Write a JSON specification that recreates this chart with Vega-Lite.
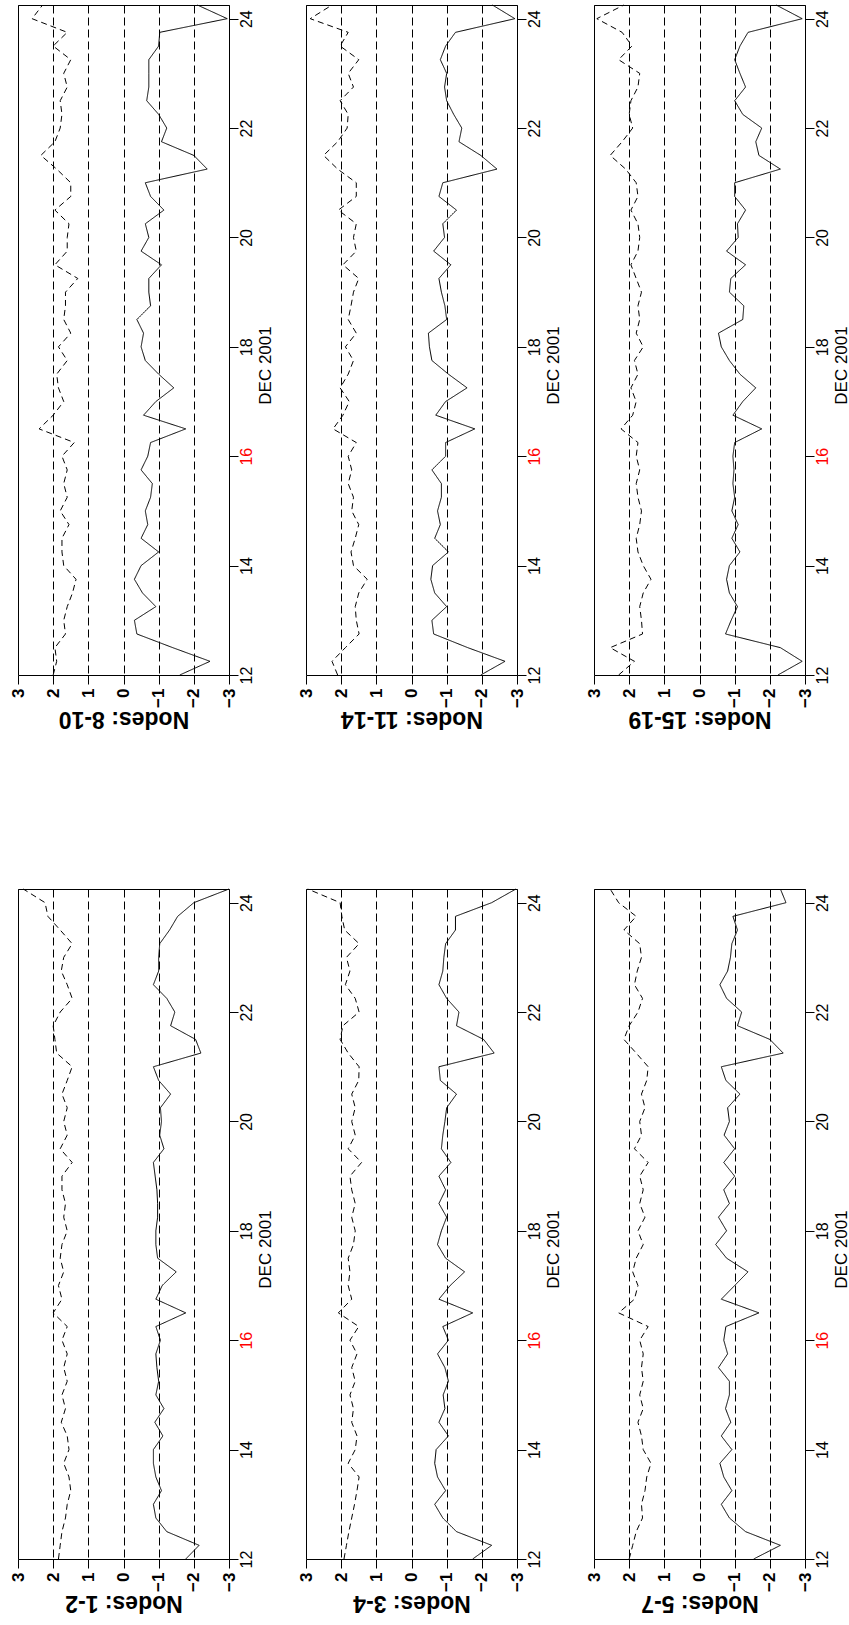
{
  "$schema": "https://vega.github.io/schema/vega-lite/v6.json",
  "padding": {"left": 8, "top": 2, "right": 0, "bottom": 0},
  "background": "white",
  "config": {
    "font": "Liberation Sans",
    "view": {"stroke": "black", "strokeWidth": 1},
    "axis": {"labelFont": "Liberation Sans", "titleFont": "Liberation Sans", "labelColor": "black", "titleColor": "black", "tickColor": "black", "domain": false},
    "axisX": {"orient": "bottom", "labelAngle": 270, "labelAlign": "right", "labelBaseline": "middle", "labelFontSize": 17, "labelFontWeight": "bold", "labelFlush": false, "labelOverlap": false, "labelBound": false, "tickSize": 9, "labelPadding": 4, "grid": true, "gridColor": "black", "gridDash": [8, 4], "gridWidth": 1, "titleAngle": 180, "titleFontSize": 23, "titleFontWeight": "bold", "titleAlign": "center", "titleBaseline": "alphabetic", "titleX": 105.5, "titleY": 36},
    "axisY": {"orient": "right", "grid": false, "labelAngle": 270, "labelAlign": "center", "labelBaseline": "top", "labelFontSize": 16, "labelFlush": false, "labelOverlap": false, "labelBound": false, "tickSize": 9, "labelPadding": 0, "titleAngle": 270, "titleFontSize": 17, "titleFontWeight": "normal", "titleAlign": "center", "titleBaseline": "top", "titleX": 28, "titleY": 360}
  },
  "datasets": {
    "d": [
      {"p":"8-10","d":12,"a":-1.6,"b":2.0},{"p":"8-10","d":12.25,"a":-2.46,"b":1.9},{"p":"8-10","d":12.5,"a":-1.4,"b":1.95},{"p":"8-10","d":12.75,"a":-0.38,"b":1.65},{"p":"8-10","d":13,"a":-0.31,"b":1.7},{"p":"8-10","d":13.25,"a":-0.92,"b":1.6},{"p":"8-10","d":13.5,"a":-0.54,"b":1.45},{"p":"8-10","d":13.75,"a":-0.31,"b":1.35},{"p":"8-10","d":14,"a":-0.5,"b":1.7},{"p":"8-10","d":14.25,"a":-1.0,"b":1.75},
      {"p":"8-10","d":14.5,"a":-0.5,"b":1.75},{"p":"8-10","d":14.75,"a":-0.69,"b":1.55},{"p":"8-10","d":15,"a":-0.62,"b":1.8},{"p":"8-10","d":15.25,"a":-0.77,"b":1.6},{"p":"8-10","d":15.5,"a":-0.82,"b":1.7},{"p":"8-10","d":15.75,"a":-0.5,"b":1.6},{"p":"8-10","d":16,"a":-0.69,"b":1.75},{"p":"8-10","d":16.25,"a":-0.77,"b":1.4},{"p":"8-10","d":16.5,"a":-1.77,"b":2.4},{"p":"8-10","d":16.75,"a":-0.57,"b":2.0},
      {"p":"8-10","d":17,"a":-0.92,"b":1.7},{"p":"8-10","d":17.25,"a":-1.43,"b":1.85},{"p":"8-10","d":17.5,"a":-1.0,"b":1.9},{"p":"8-10","d":17.75,"a":-0.62,"b":1.6},{"p":"8-10","d":18,"a":-0.5,"b":1.85},{"p":"8-10","d":18.25,"a":-0.57,"b":1.5},{"p":"8-10","d":18.5,"a":-0.38,"b":1.7},{"p":"8-10","d":18.75,"a":-0.77,"b":1.65},{"p":"8-10","d":19,"a":-0.72,"b":1.65},{"p":"8-10","d":19.25,"a":-0.72,"b":1.3},
      {"p":"8-10","d":19.5,"a":-1.08,"b":1.95},{"p":"8-10","d":19.75,"a":-0.5,"b":1.6},{"p":"8-10","d":20,"a":-0.72,"b":1.6},{"p":"8-10","d":20.25,"a":-0.62,"b":1.55},{"p":"8-10","d":20.5,"a":-1.15,"b":1.95},{"p":"8-10","d":20.75,"a":-0.77,"b":1.5},{"p":"8-10","d":21,"a":-0.62,"b":1.5},{"p":"8-10","d":21.25,"a":-2.38,"b":1.9},{"p":"8-10","d":21.5,"a":-2.0,"b":2.35},{"p":"8-10","d":21.75,"a":-1.08,"b":1.95},
      {"p":"8-10","d":22,"a":-1.23,"b":1.8},{"p":"8-10","d":22.25,"a":-1.0,"b":1.75},{"p":"8-10","d":22.5,"a":-0.66,"b":1.8},{"p":"8-10","d":22.75,"a":-0.72,"b":1.6},{"p":"8-10","d":23,"a":-0.72,"b":1.7},{"p":"8-10","d":23.25,"a":-0.72,"b":1.5},{"p":"8-10","d":23.5,"a":-1.0,"b":2.0},{"p":"8-10","d":23.75,"a":-1.03,"b":1.6},{"p":"8-10","d":24,"a":-2.95,"b":2.6},{"p":"8-10","d":24.25,"a":-2.1,"b":2.3},

      {"p":"11-14","d":12,"a":-1.97,"b":2.1},{"p":"11-14","d":12.25,"a":-2.66,"b":2.26},{"p":"11-14","d":12.5,"a":-1.6,"b":1.88},{"p":"11-14","d":12.75,"a":-0.63,"b":1.49},{"p":"11-14","d":13,"a":-0.58,"b":1.57},{"p":"11-14","d":13.25,"a":-1.0,"b":1.6},{"p":"11-14","d":13.5,"a":-0.66,"b":1.5},{"p":"11-14","d":13.75,"a":-0.55,"b":1.26},{"p":"11-14","d":14,"a":-0.6,"b":1.65},{"p":"11-14","d":14.25,"a":-1.05,"b":1.72},
      {"p":"11-14","d":14.5,"a":-0.66,"b":1.6},{"p":"11-14","d":14.75,"a":-0.82,"b":1.5},{"p":"11-14","d":15,"a":-0.74,"b":1.7},{"p":"11-14","d":15.25,"a":-0.85,"b":1.65},{"p":"11-14","d":15.5,"a":-0.85,"b":1.8},{"p":"11-14","d":15.75,"a":-0.58,"b":1.7},{"p":"11-14","d":16,"a":-0.97,"b":1.8},{"p":"11-14","d":16.25,"a":-0.97,"b":1.57},{"p":"11-14","d":16.5,"a":-1.8,"b":2.23},{"p":"11-14","d":16.75,"a":-0.69,"b":1.95},
      {"p":"11-14","d":17,"a":-0.97,"b":1.77},{"p":"11-14","d":17.25,"a":-1.58,"b":2.03},{"p":"11-14","d":17.5,"a":-1.05,"b":1.8},{"p":"11-14","d":17.75,"a":-0.58,"b":1.65},{"p":"11-14","d":18,"a":-0.51,"b":1.88},{"p":"11-14","d":18.25,"a":-0.48,"b":1.57},{"p":"11-14","d":18.5,"a":-1.0,"b":1.8},{"p":"11-14","d":18.75,"a":-0.95,"b":1.72},{"p":"11-14","d":19,"a":-0.85,"b":1.65},{"p":"11-14","d":19.25,"a":-0.78,"b":1.5},
      {"p":"11-14","d":19.5,"a":-1.12,"b":1.95},{"p":"11-14","d":19.75,"a":-0.63,"b":1.57},{"p":"11-14","d":20,"a":-0.94,"b":1.65},{"p":"11-14","d":20.25,"a":-0.89,"b":1.57},{"p":"11-14","d":20.5,"a":-1.28,"b":2.08},{"p":"11-14","d":20.75,"a":-0.78,"b":1.57},{"p":"11-14","d":21,"a":-0.89,"b":1.57},{"p":"11-14","d":21.25,"a":-2.43,"b":2.1},{"p":"11-14","d":21.5,"a":-1.97,"b":2.5},{"p":"11-14","d":21.75,"a":-1.35,"b":2.1},
      {"p":"11-14","d":22,"a":-1.43,"b":1.83},{"p":"11-14","d":22.25,"a":-1.2,"b":1.8},{"p":"11-14","d":22.5,"a":-1.0,"b":2.03},{"p":"11-14","d":22.75,"a":-0.94,"b":1.65},{"p":"11-14","d":23,"a":-1.0,"b":1.8},{"p":"11-14","d":23.25,"a":-0.82,"b":1.5},{"p":"11-14","d":23.5,"a":-0.97,"b":2.03},{"p":"11-14","d":23.75,"a":-1.25,"b":1.8},{"p":"11-14","d":24,"a":-2.94,"b":2.88},{"p":"11-14","d":24.25,"a":-2.3,"b":2.26},

      {"p":"15-19","d":12,"a":-2.23,"b":2.3},{"p":"15-19","d":12.25,"a":-2.92,"b":1.85},{"p":"15-19","d":12.5,"a":-2.3,"b":2.54},{"p":"15-19","d":12.75,"a":-0.74,"b":1.62},{"p":"15-19","d":13,"a":-0.9,"b":1.65},{"p":"15-19","d":13.25,"a":-1.08,"b":1.7},{"p":"15-19","d":13.5,"a":-0.85,"b":1.6},{"p":"15-19","d":13.75,"a":-0.77,"b":1.38},{"p":"15-19","d":14,"a":-0.85,"b":1.6},{"p":"15-19","d":14.25,"a":-1.15,"b":1.75},
      {"p":"15-19","d":14.5,"a":-0.92,"b":1.8},{"p":"15-19","d":14.75,"a":-1.1,"b":1.7},{"p":"15-19","d":15,"a":-0.92,"b":1.65},{"p":"15-19","d":15.25,"a":-1.0,"b":1.75},{"p":"15-19","d":15.5,"a":-0.95,"b":1.8},{"p":"15-19","d":15.75,"a":-0.98,"b":1.7},{"p":"15-19","d":16,"a":-0.95,"b":1.8},{"p":"15-19","d":16.25,"a":-1.0,"b":1.75},{"p":"15-19","d":16.5,"a":-1.77,"b":2.23},{"p":"15-19","d":16.75,"a":-0.95,"b":1.9},
      {"p":"15-19","d":17,"a":-1.23,"b":1.8},{"p":"15-19","d":17.25,"a":-1.6,"b":1.95},{"p":"15-19","d":17.5,"a":-1.15,"b":1.75},{"p":"15-19","d":17.75,"a":-0.85,"b":1.85},{"p":"15-19","d":18,"a":-0.62,"b":1.6},{"p":"15-19","d":18.25,"a":-0.54,"b":1.8},{"p":"15-19","d":18.5,"a":-1.23,"b":1.7},{"p":"15-19","d":18.75,"a":-1.26,"b":1.75},{"p":"15-19","d":19,"a":-0.85,"b":1.65},{"p":"15-19","d":19.25,"a":-0.89,"b":1.8},
      {"p":"15-19","d":19.5,"a":-1.31,"b":1.95},{"p":"15-19","d":19.75,"a":-0.77,"b":1.75},{"p":"15-19","d":20,"a":-1.1,"b":1.7},{"p":"15-19","d":20.25,"a":-1.08,"b":1.75},{"p":"15-19","d":20.5,"a":-1.31,"b":1.95},{"p":"15-19","d":20.75,"a":-1.0,"b":1.75},{"p":"15-19","d":21,"a":-1.0,"b":1.8},{"p":"15-19","d":21.25,"a":-2.3,"b":2.1},{"p":"15-19","d":21.5,"a":-1.69,"b":2.54},{"p":"15-19","d":21.75,"a":-1.6,"b":2.2},
      {"p":"15-19","d":22,"a":-1.77,"b":1.9},{"p":"15-19","d":22.25,"a":-1.23,"b":2.0},{"p":"15-19","d":22.5,"a":-1.0,"b":1.95},{"p":"15-19","d":22.75,"a":-1.31,"b":1.75},{"p":"15-19","d":23,"a":-1.15,"b":1.7},{"p":"15-19","d":23.25,"a":-1.0,"b":2.3},{"p":"15-19","d":23.5,"a":-1.15,"b":1.92},{"p":"15-19","d":23.75,"a":-1.38,"b":2.2},{"p":"15-19","d":24,"a":-2.92,"b":2.92},{"p":"15-19","d":24.25,"a":-2.18,"b":2.15},

      {"p":"1-2","d":12,"a":-1.77,"b":1.85},{"p":"1-2","d":12.25,"a":-2.15,"b":1.8},{"p":"1-2","d":12.5,"a":-1.23,"b":1.75},{"p":"1-2","d":12.75,"a":-0.92,"b":1.65},{"p":"1-2","d":13,"a":-0.85,"b":1.6},{"p":"1-2","d":13.25,"a":-1.08,"b":1.5},{"p":"1-2","d":13.5,"a":-0.92,"b":1.55},{"p":"1-2","d":13.75,"a":-0.85,"b":1.7},{"p":"1-2","d":14,"a":-0.85,"b":1.55},{"p":"1-2","d":14.25,"a":-1.12,"b":1.6},
      {"p":"1-2","d":14.5,"a":-0.89,"b":1.77},{"p":"1-2","d":14.75,"a":-1.15,"b":1.65},{"p":"1-2","d":15,"a":-0.92,"b":1.75},{"p":"1-2","d":15.25,"a":-1.0,"b":1.6},{"p":"1-2","d":15.5,"a":-0.95,"b":1.7},{"p":"1-2","d":15.75,"a":-0.92,"b":1.6},{"p":"1-2","d":16,"a":-1.05,"b":1.75},{"p":"1-2","d":16.25,"a":-0.92,"b":1.6},{"p":"1-2","d":16.5,"a":-1.77,"b":2.0},{"p":"1-2","d":16.75,"a":-0.92,"b":1.75},
      {"p":"1-2","d":17,"a":-1.1,"b":1.85},{"p":"1-2","d":17.25,"a":-1.5,"b":1.7},{"p":"1-2","d":17.5,"a":-0.97,"b":1.8},{"p":"1-2","d":17.75,"a":-0.92,"b":1.75},{"p":"1-2","d":18,"a":-0.92,"b":1.6},{"p":"1-2","d":18.25,"a":-0.97,"b":1.7},{"p":"1-2","d":18.5,"a":-0.97,"b":1.65},{"p":"1-2","d":18.75,"a":-0.95,"b":1.75},{"p":"1-2","d":19,"a":-0.9,"b":1.75},{"p":"1-2","d":19.25,"a":-0.85,"b":1.46},
      {"p":"1-2","d":19.5,"a":-1.15,"b":1.8},{"p":"1-2","d":19.75,"a":-1.03,"b":1.6},{"p":"1-2","d":20,"a":-1.08,"b":1.7},{"p":"1-2","d":20.25,"a":-1.05,"b":1.6},{"p":"1-2","d":20.5,"a":-1.34,"b":1.75},{"p":"1-2","d":20.75,"a":-1.0,"b":1.6},{"p":"1-2","d":21,"a":-0.85,"b":1.46},{"p":"1-2","d":21.25,"a":-2.2,"b":1.9},{"p":"1-2","d":21.5,"a":-2.05,"b":1.95},{"p":"1-2","d":21.75,"a":-1.34,"b":2.0},
      {"p":"1-2","d":22,"a":-1.46,"b":1.8},{"p":"1-2","d":22.25,"a":-1.23,"b":1.46},{"p":"1-2","d":22.5,"a":-0.85,"b":1.6},{"p":"1-2","d":22.75,"a":-1.0,"b":1.77},{"p":"1-2","d":23,"a":-1.0,"b":1.7},{"p":"1-2","d":23.25,"a":-1.03,"b":1.46},{"p":"1-2","d":23.5,"a":-1.31,"b":1.8},{"p":"1-2","d":23.75,"a":-1.54,"b":2.15},{"p":"1-2","d":24,"a":-2.0,"b":2.23},{"p":"1-2","d":24.25,"a":-3.0,"b":2.85},

      {"p":"3-4","d":12,"a":-1.74,"b":1.92},{"p":"3-4","d":12.25,"a":-2.28,"b":1.85},{"p":"3-4","d":12.5,"a":-1.28,"b":1.78},{"p":"3-4","d":12.75,"a":-0.89,"b":1.7},{"p":"3-4","d":13,"a":-0.66,"b":1.62},{"p":"3-4","d":13.25,"a":-0.97,"b":1.55},{"p":"3-4","d":13.5,"a":-0.74,"b":1.49},{"p":"3-4","d":13.75,"a":-0.66,"b":1.8},{"p":"3-4","d":14,"a":-0.7,"b":1.6},{"p":"3-4","d":14.25,"a":-1.05,"b":1.55},
      {"p":"3-4","d":14.5,"a":-0.78,"b":1.7},{"p":"3-4","d":14.75,"a":-0.95,"b":1.65},{"p":"3-4","d":15,"a":-0.9,"b":1.75},{"p":"3-4","d":15.25,"a":-1.05,"b":1.6},{"p":"3-4","d":15.5,"a":-0.95,"b":1.7},{"p":"3-4","d":15.75,"a":-0.74,"b":1.55},{"p":"3-4","d":16,"a":-1.05,"b":1.75},{"p":"3-4","d":16.25,"a":-0.89,"b":1.5},{"p":"3-4","d":16.5,"a":-1.74,"b":2.08},{"p":"3-4","d":16.75,"a":-0.78,"b":1.7},
      {"p":"3-4","d":17,"a":-1.1,"b":1.8},{"p":"3-4","d":17.25,"a":-1.51,"b":1.75},{"p":"3-4","d":17.5,"a":-0.97,"b":1.8},{"p":"3-4","d":17.75,"a":-0.74,"b":1.65},{"p":"3-4","d":18,"a":-0.85,"b":1.6},{"p":"3-4","d":18.25,"a":-1.0,"b":1.7},{"p":"3-4","d":18.5,"a":-0.78,"b":1.6},{"p":"3-4","d":18.75,"a":-0.97,"b":1.7},{"p":"3-4","d":19,"a":-0.78,"b":1.75},{"p":"3-4","d":19.25,"a":-1.12,"b":1.42},
      {"p":"3-4","d":19.5,"a":-0.85,"b":1.8},{"p":"3-4","d":19.75,"a":-0.89,"b":1.6},{"p":"3-4","d":20,"a":-0.95,"b":1.7},{"p":"3-4","d":20.25,"a":-1.0,"b":1.6},{"p":"3-4","d":20.5,"a":-1.28,"b":1.7},{"p":"3-4","d":20.75,"a":-0.82,"b":1.5},{"p":"3-4","d":21,"a":-0.78,"b":1.49},{"p":"3-4","d":21.25,"a":-2.35,"b":1.8},{"p":"3-4","d":21.5,"a":-2.05,"b":2.03},{"p":"3-4","d":21.75,"a":-1.28,"b":1.95},
      {"p":"3-4","d":22,"a":-1.35,"b":1.49},{"p":"3-4","d":22.25,"a":-1.0,"b":1.6},{"p":"3-4","d":22.5,"a":-0.78,"b":1.88},{"p":"3-4","d":22.75,"a":-0.89,"b":1.75},{"p":"3-4","d":23,"a":-0.92,"b":1.85},{"p":"3-4","d":23.25,"a":-0.97,"b":1.49},{"p":"3-4","d":23.5,"a":-1.25,"b":1.9},{"p":"3-4","d":23.75,"a":-1.25,"b":1.98},{"p":"3-4","d":24,"a":-2.28,"b":2.03},{"p":"3-4","d":24.25,"a":-2.97,"b":2.95},

      {"p":"5-7","d":12,"a":-1.54,"b":2.0},{"p":"5-7","d":12.25,"a":-2.3,"b":1.9},{"p":"5-7","d":12.5,"a":-1.31,"b":1.8},{"p":"5-7","d":12.75,"a":-0.85,"b":1.62},{"p":"5-7","d":13,"a":-0.62,"b":1.65},{"p":"5-7","d":13.25,"a":-0.92,"b":1.55},{"p":"5-7","d":13.5,"a":-0.69,"b":1.5},{"p":"5-7","d":13.75,"a":-0.58,"b":1.38},{"p":"5-7","d":14,"a":-0.92,"b":1.6},{"p":"5-7","d":14.25,"a":-0.62,"b":1.65},
      {"p":"5-7","d":14.5,"a":-0.89,"b":1.75},{"p":"5-7","d":14.75,"a":-0.74,"b":1.6},{"p":"5-7","d":15,"a":-0.85,"b":1.7},{"p":"5-7","d":15.25,"a":-0.85,"b":1.6},{"p":"5-7","d":15.5,"a":-0.54,"b":1.65},{"p":"5-7","d":15.75,"a":-0.8,"b":1.6},{"p":"5-7","d":16,"a":-0.69,"b":1.7},{"p":"5-7","d":16.25,"a":-0.75,"b":1.46},{"p":"5-7","d":16.5,"a":-1.69,"b":2.3},{"p":"5-7","d":16.75,"a":-0.62,"b":1.85},
      {"p":"5-7","d":17,"a":-1.0,"b":1.75},{"p":"5-7","d":17.25,"a":-1.38,"b":1.9},{"p":"5-7","d":17.5,"a":-0.77,"b":1.8},{"p":"5-7","d":17.75,"a":-0.46,"b":1.6},{"p":"5-7","d":18,"a":-0.77,"b":1.75},{"p":"5-7","d":18.25,"a":-0.54,"b":1.55},{"p":"5-7","d":18.5,"a":-0.85,"b":1.7},{"p":"5-7","d":18.75,"a":-0.69,"b":1.6},{"p":"5-7","d":19,"a":-1.0,"b":1.7},{"p":"5-7","d":19.25,"a":-0.69,"b":1.46},
      {"p":"5-7","d":19.5,"a":-1.0,"b":1.85},{"p":"5-7","d":19.75,"a":-0.7,"b":1.65},{"p":"5-7","d":20,"a":-0.85,"b":1.7},{"p":"5-7","d":20.25,"a":-0.8,"b":1.55},{"p":"5-7","d":20.5,"a":-1.15,"b":1.65},{"p":"5-7","d":20.75,"a":-0.75,"b":1.5},{"p":"5-7","d":21,"a":-0.62,"b":1.46},{"p":"5-7","d":21.25,"a":-2.38,"b":1.8},{"p":"5-7","d":21.5,"a":-2.0,"b":2.15},{"p":"5-7","d":21.75,"a":-1.08,"b":2.0},
      {"p":"5-7","d":22,"a":-1.2,"b":1.75},{"p":"5-7","d":22.25,"a":-0.77,"b":1.62},{"p":"5-7","d":22.5,"a":-0.58,"b":1.85},{"p":"5-7","d":22.75,"a":-0.8,"b":1.77},{"p":"5-7","d":23,"a":-0.88,"b":1.65},{"p":"5-7","d":23.25,"a":-0.92,"b":1.7},{"p":"5-7","d":23.5,"a":-1.08,"b":2.15},{"p":"5-7","d":23.75,"a":-0.95,"b":1.8},{"p":"5-7","d":24,"a":-2.46,"b":2.3},{"p":"5-7","d":24.25,"a":-2.3,"b":2.54}
    ]
  },
  "bounds": "flush",
  "columns": 3,
  "spacing": {"row": 214, "column": 77},
  "concat": [
    {"width": 211, "height": 670, "data": {"name": "d"}, "transform": [{"filter": "datum.p == '8-10'"}, {"fold": ["a", "b"], "as": ["s", "v"]}],
     "mark": {"type": "line", "color": "black", "strokeWidth": 1},
     "encoding": {"x": {"field": "v", "type": "quantitative", "title": "Nodes: 8-10", "scale": {"domain": [-3, 3], "reverse": true, "nice": false}, "axis": {"values": [-3,-2,-1,0,1,2,3]}},
                  "y": {"field": "d", "type": "quantitative", "title": "DEC 2001", "scale": {"domain": [12, 24.25], "nice": false, "zero": false}, "axis": {"values": [12,14,16,18,20,22,24], "labelColor": {"condition": {"test": "datum.value == 16", "value": "#ff0000"}, "value": "black"}}},
                  "strokeDash": {"field": "s", "type": "nominal", "scale": {"domain": ["a", "b"], "range": [[1, 0], [6, 4]]}, "legend": null},
                  "order": {"field": "d", "type": "quantitative"}}},
    {"width": 211, "height": 670, "data": {"name": "d"}, "transform": [{"filter": "datum.p == '11-14'"}, {"fold": ["a", "b"], "as": ["s", "v"]}],
     "mark": {"type": "line", "color": "black", "strokeWidth": 1},
     "encoding": {"x": {"field": "v", "type": "quantitative", "title": "Nodes: 11-14", "scale": {"domain": [-3, 3], "reverse": true, "nice": false}, "axis": {"values": [-3,-2,-1,0,1,2,3]}},
                  "y": {"field": "d", "type": "quantitative", "title": "DEC 2001", "scale": {"domain": [12, 24.25], "nice": false, "zero": false}, "axis": {"values": [12,14,16,18,20,22,24], "labelColor": {"condition": {"test": "datum.value == 16", "value": "#ff0000"}, "value": "black"}}},
                  "strokeDash": {"field": "s", "type": "nominal", "scale": {"domain": ["a", "b"], "range": [[1, 0], [6, 4]]}, "legend": null},
                  "order": {"field": "d", "type": "quantitative"}}},
    {"width": 211, "height": 670, "data": {"name": "d"}, "transform": [{"filter": "datum.p == '15-19'"}, {"fold": ["a", "b"], "as": ["s", "v"]}],
     "mark": {"type": "line", "color": "black", "strokeWidth": 1},
     "encoding": {"x": {"field": "v", "type": "quantitative", "title": "Nodes: 15-19", "scale": {"domain": [-3, 3], "reverse": true, "nice": false}, "axis": {"values": [-3,-2,-1,0,1,2,3]}},
                  "y": {"field": "d", "type": "quantitative", "title": "DEC 2001", "scale": {"domain": [12, 24.25], "nice": false, "zero": false}, "axis": {"values": [12,14,16,18,20,22,24], "labelColor": {"condition": {"test": "datum.value == 16", "value": "#ff0000"}, "value": "black"}}},
                  "strokeDash": {"field": "s", "type": "nominal", "scale": {"domain": ["a", "b"], "range": [[1, 0], [6, 4]]}, "legend": null},
                  "order": {"field": "d", "type": "quantitative"}}},
    {"width": 211, "height": 670, "data": {"name": "d"}, "transform": [{"filter": "datum.p == '1-2'"}, {"fold": ["a", "b"], "as": ["s", "v"]}],
     "mark": {"type": "line", "color": "black", "strokeWidth": 1},
     "encoding": {"x": {"field": "v", "type": "quantitative", "title": "Nodes: 1-2", "scale": {"domain": [-3, 3], "reverse": true, "nice": false}, "axis": {"values": [-3,-2,-1,0,1,2,3]}},
                  "y": {"field": "d", "type": "quantitative", "title": "DEC 2001", "scale": {"domain": [12, 24.25], "nice": false, "zero": false}, "axis": {"values": [12,14,16,18,20,22,24], "labelColor": {"condition": {"test": "datum.value == 16", "value": "#ff0000"}, "value": "black"}}},
                  "strokeDash": {"field": "s", "type": "nominal", "scale": {"domain": ["a", "b"], "range": [[1, 0], [6, 4]]}, "legend": null},
                  "order": {"field": "d", "type": "quantitative"}}},
    {"width": 211, "height": 670, "data": {"name": "d"}, "transform": [{"filter": "datum.p == '3-4'"}, {"fold": ["a", "b"], "as": ["s", "v"]}],
     "mark": {"type": "line", "color": "black", "strokeWidth": 1},
     "encoding": {"x": {"field": "v", "type": "quantitative", "title": "Nodes: 3-4", "scale": {"domain": [-3, 3], "reverse": true, "nice": false}, "axis": {"values": [-3,-2,-1,0,1,2,3]}},
                  "y": {"field": "d", "type": "quantitative", "title": "DEC 2001", "scale": {"domain": [12, 24.25], "nice": false, "zero": false}, "axis": {"values": [12,14,16,18,20,22,24], "labelColor": {"condition": {"test": "datum.value == 16", "value": "#ff0000"}, "value": "black"}}},
                  "strokeDash": {"field": "s", "type": "nominal", "scale": {"domain": ["a", "b"], "range": [[1, 0], [6, 4]]}, "legend": null},
                  "order": {"field": "d", "type": "quantitative"}}},
    {"width": 211, "height": 670, "data": {"name": "d"}, "transform": [{"filter": "datum.p == '5-7'"}, {"fold": ["a", "b"], "as": ["s", "v"]}],
     "mark": {"type": "line", "color": "black", "strokeWidth": 1},
     "encoding": {"x": {"field": "v", "type": "quantitative", "title": "Nodes: 5-7", "scale": {"domain": [-3, 3], "reverse": true, "nice": false}, "axis": {"values": [-3,-2,-1,0,1,2,3]}},
                  "y": {"field": "d", "type": "quantitative", "title": "DEC 2001", "scale": {"domain": [12, 24.25], "nice": false, "zero": false}, "axis": {"values": [12,14,16,18,20,22,24], "labelColor": {"condition": {"test": "datum.value == 16", "value": "#ff0000"}, "value": "black"}}},
                  "strokeDash": {"field": "s", "type": "nominal", "scale": {"domain": ["a", "b"], "range": [[1, 0], [6, 4]]}, "legend": null},
                  "order": {"field": "d", "type": "quantitative"}}}
  ]
}
